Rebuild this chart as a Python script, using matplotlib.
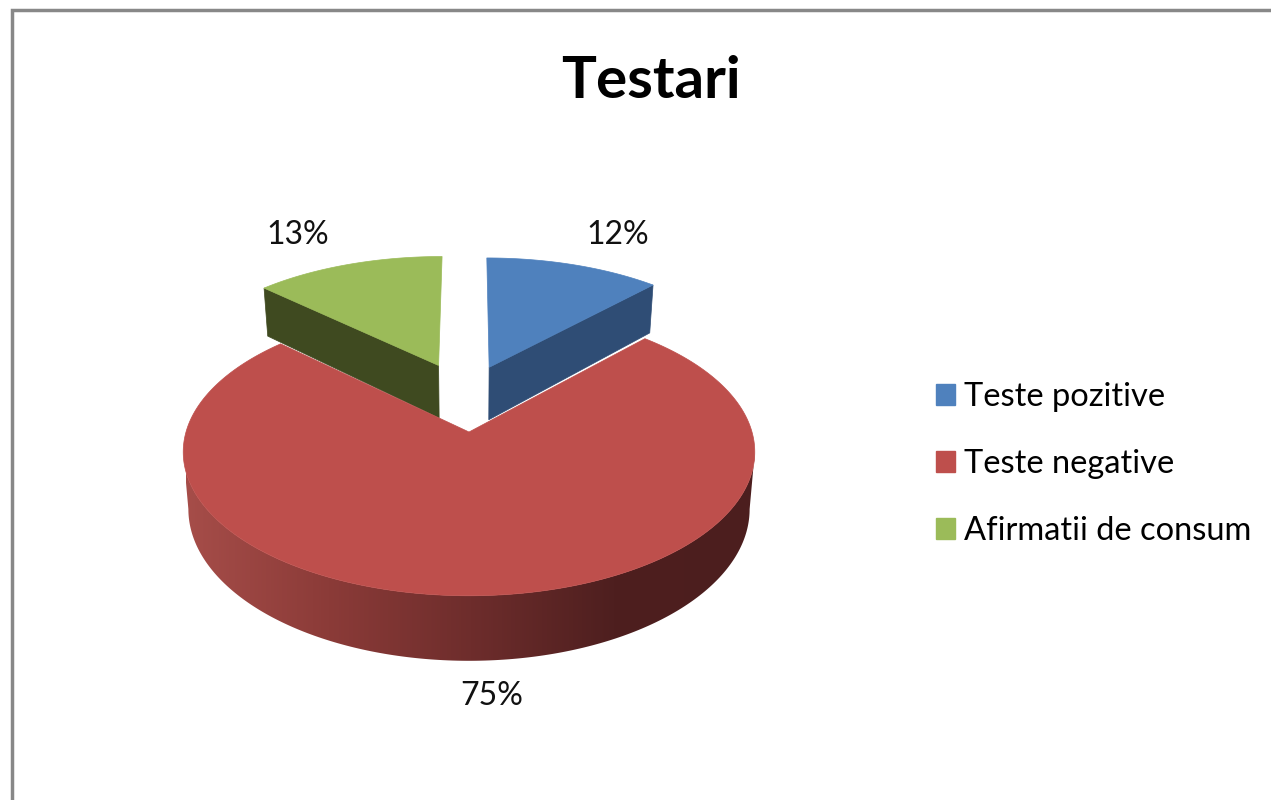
import numpy as np
import matplotlib
matplotlib.use("Agg")
import matplotlib.pyplot as plt
from matplotlib.colors import LinearSegmentedColormap
from matplotlib.patches import Patch, Polygon

# Data
categories = ["Teste pozitive", "Teste negative", "Afirmatii de consum"]
percent = [12, 75, 13]
top_colors = ["#4F81BD", "#BE4F4C", "#9BBB59"]
wall_colors = ["#2F4D75", "#BE4F4C", "#3F4A20"]
title = "Testari"

# Layout, in pixels of the picture
cx, cy = 469, 432
rx, ry = 283, 141
persp = 0.139
depth = 56
offsets = [(0.076, 0.49), (0.0, 0.0), (-0.115, 0.505)]
label_pos = [(618, 235), (492, 696), (298, 235)]


def project(u, v, drop=0.0):
    # perspective view of a point of the unit disc, drop = distance below the top face
    w = 1 / (1 + persp * v)
    shrink = 1 - 0.018 * drop / depth
    return cx + rx * u * w * shrink, cy - ry * v * w + depth * w * drop / depth


def rim(a0, a1, off, drop=0.0, n=200):
    th = np.radians(np.linspace(a0, a1, n))
    return project(off[0] + np.sin(th), off[1] + np.cos(th), drop)


def pts(x, y):
    return np.column_stack([x, y])


# slice angles, clockwise from 12 o'clock
edges = 360 * np.concatenate([[0], np.cumsum(percent)]) / np.sum(percent)

fig = plt.figure(figsize=(12.71, 8), dpi=100)
ax = fig.add_axes([0, 0, 1, 1])
ax.set_xlim(0, 1271)
ax.set_ylim(800, 0)
ax.axis("off")
plt.rcParams["font.family"] = ["Lato", "DejaVu Sans"]

# grey border, left and top only
ax.plot([11.5, 11.5, 1271], [800, 10, 10], color="#888888", lw=2.5,
        solid_joinstyle="miter", zorder=1)

# the two pulled out slices: cut faces first, then the top
for i in [2, 0]:
    off = offsets[i]
    a0, a1 = edges[i], edges[i + 1]
    cut = a0 if i == 2 else a1
    xc, yc = rim(cut, cut, off, n=1)
    xc2, yc2 = rim(cut, cut, off, drop=depth, n=1)
    xa, ya = project(off[0], off[1])
    xa2, ya2 = project(off[0], off[1], depth)
    ax.add_patch(Polygon([(xa, ya), (xc[0], yc[0]), (xc2[0], yc2[0]), (xa2, ya2)],
                         fc=wall_colors[i], ec=wall_colors[i], lw=0.5, zorder=2))
    x, y = rim(a0, a1, off)
    ax.add_patch(Polygon(np.vstack([[(xa, ya)], pts(x, y)]),
                         fc=top_colors[i], ec=top_colors[i], lw=0.5, zorder=3))

# big slice: shaded outer wall
xt, yt = rim(98, 262, offsets[1])
xb, yb = rim(98, 262, offsets[1], drop=depth)
wall = Polygon(np.vstack([pts(xt, yt), pts(xb, yb)[::-1]]), fc="none", ec="none",
               transform=ax.transData)
ax.add_patch(wall)
shade = LinearSegmentedColormap.from_list(
    "shade", ["#A64D49", "#8B3B38", "#6E2D2C", "#4E1F1F", "#4C1E1E"])
grad = np.linspace(0, 1, 256).reshape(1, -1)
im = ax.imshow(grad, cmap=shade, extent=(186, 756, 700, 400), aspect="auto", zorder=4)
im.set_clip_path(wall)
ax.set_xlim(0, 1271)
ax.set_ylim(800, 0)

# big slice: top face
x, y = rim(edges[1], edges[2], offsets[1], n=400)
xa, ya = project(*offsets[1])
ax.add_patch(Polygon(np.vstack([[(xa, ya)], pts(x, y)]),
                     fc=top_colors[1], ec=top_colors[1], lw=0.5, zorder=5))

# texts
ax.text(651, 82, title, fontsize=42, fontweight="bold", ha="center", va="center",
        color="black", zorder=6)
for p, pos in zip(percent, label_pos):
    ax.text(pos[0], pos[1], f"{p}%", fontsize=23, ha="center", va="center",
            color="#111111", zorder=6)

handles = [Patch(fc=c, ec=c) for c in top_colors]
ax.legend(handles, categories, loc="center left", bbox_to_anchor=(920 / 1271, 1 - 464 / 800),
          frameon=False, fontsize=23.5, handlelength=0.58, handleheight=0.58,
          handletextpad=0.28, labelspacing=1.13, borderpad=0, borderaxespad=0.5)

fig.savefig("out.png", dpi=100)
